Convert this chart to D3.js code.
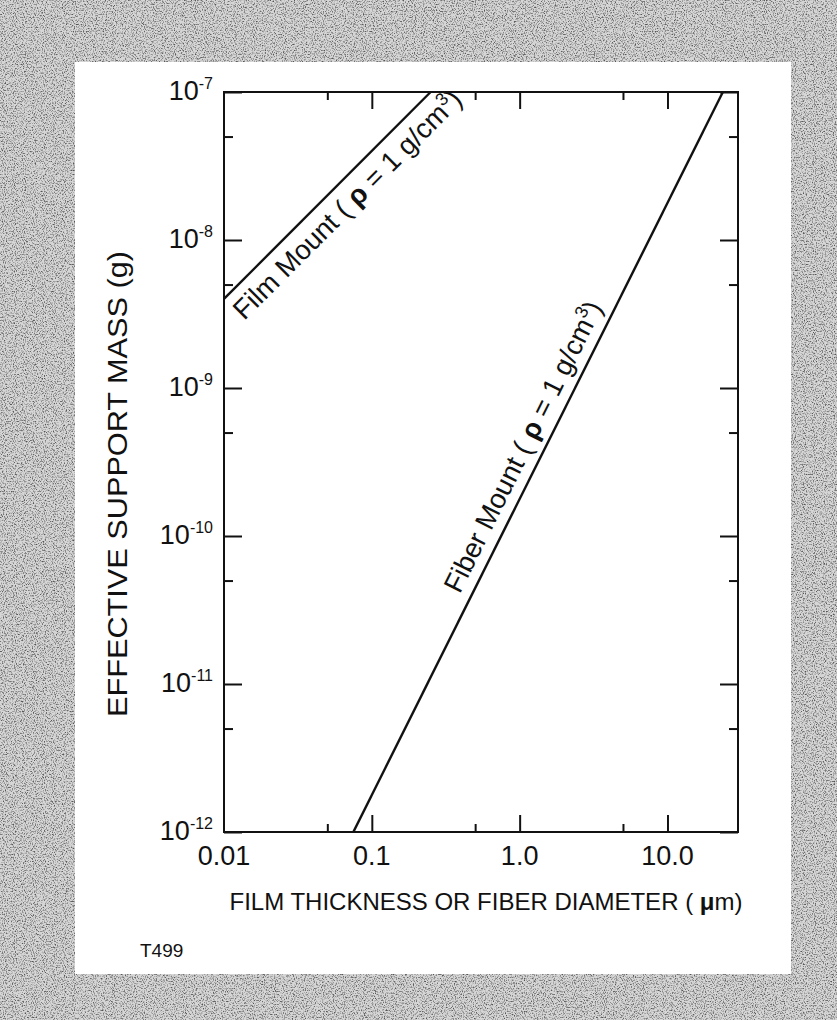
<!DOCTYPE html>
<html>
<head>
<meta charset="utf-8">
<script src="https://cdn.jsdelivr.net/npm/d3@7"></script>
<style>
  body { margin: 0; background: #fff; }
  svg { display: block; }
  text { font-family: "Liberation Sans", Arial, sans-serif; fill: #111; }
</style>
</head>
<body>
<div id="chart"></div>
<script>
// --- data ---
const yExponents   = [-12, -11, -10, -9, -8, -7];
const yMinorTicks  = [5e-12, 5e-11, 5e-10, 5e-9, 5e-8];
const xTickValues  = [0.01, 0.1, 1, 10];
const xTickLabels  = ["0.01", "0.1", "1.0", "10.0"];
const xMinorTicks  = [0.05, 0.5, 5];
const filmX  = [0.01, 0.25];
const filmY  = [4e-9, 1e-7];
const fiberX = [0.075, 23.7];
const fiberY = [1e-12, 1e-7];

// --- layout ---
const width = 837, height = 1020;
const plot = { left: 224, right: 738, top: 92, bottom: 832 };
const ink = "#111";

const svg = d3.select("#chart").append("svg")
  .attr("width", width).attr("height", height);

// textured scan border
const defs = svg.append("defs");
const f = defs.append("filter").attr("id", "grain")
  .attr("x", 0).attr("y", 0).attr("width", "100%").attr("height", "100%");
f.append("feTurbulence").attr("type", "fractalNoise")
  .attr("baseFrequency", "0.9 0.7").attr("numOctaves", 2).attr("seed", 7);
f.append("feColorMatrix").attr("type", "matrix")
  .attr("values", "0 0 0 0 0  0 0 0 0 0  0 0 0 0 0  -3 0 0 0 1.6");

svg.append("rect").attr("width", width).attr("height", height).attr("fill", "#d6d6d6");
svg.append("rect").attr("width", width).attr("height", height)
  .attr("filter", "url(#grain)").attr("opacity", 0.6);
svg.append("rect")
  .attr("x", 75).attr("y", 62).attr("width", 716).attr("height", 912)
  .attr("fill", "#fff");

// --- scales ---
const x = d3.scaleLog().domain([0.01, 30]).range([plot.left, plot.right]);
const y = d3.scaleLog().domain([1e-12, 1e-7]).range([plot.bottom, plot.top]);
const yMajor = yExponents.map(e => Math.pow(10, e));

const noLabels = () => "";
function clean(g) {
  g.select(".domain").remove();
  g.selectAll(".tick line").attr("stroke", ink).attr("stroke-width", 2);
}

// inward ticks on all four sides
svg.append("g").attr("transform", `translate(${plot.left},0)`)
  .call(d3.axisLeft(y).tickValues(yMajor).tickSize(-18).tickFormat(noLabels)).call(clean);
svg.append("g").attr("transform", `translate(${plot.left},0)`)
  .call(d3.axisLeft(y).tickValues(yMinorTicks).tickSize(-9).tickFormat(noLabels)).call(clean);
svg.append("g").attr("transform", `translate(${plot.right},0)`)
  .call(d3.axisRight(y).tickValues(yMajor).tickSize(-18).tickFormat(noLabels)).call(clean);
svg.append("g").attr("transform", `translate(${plot.right},0)`)
  .call(d3.axisRight(y).tickValues(yMinorTicks).tickSize(-9).tickFormat(noLabels)).call(clean);

svg.append("g").attr("transform", `translate(0,${plot.bottom})`)
  .call(d3.axisBottom(x).tickValues(xTickValues.slice(1)).tickSize(-17).tickFormat(noLabels)).call(clean);
svg.append("g").attr("transform", `translate(0,${plot.bottom})`)
  .call(d3.axisBottom(x).tickValues(xMinorTicks).tickSize(-8).tickFormat(noLabels)).call(clean);
svg.append("g").attr("transform", `translate(0,${plot.top})`)
  .call(d3.axisTop(x).tickValues(xTickValues.slice(1)).tickSize(-17).tickFormat(noLabels)).call(clean);
svg.append("g").attr("transform", `translate(0,${plot.top})`)
  .call(d3.axisTop(x).tickValues(xMinorTicks).tickSize(-8).tickFormat(noLabels)).call(clean);

// frame
svg.append("rect")
  .attr("x", plot.left).attr("y", plot.top)
  .attr("width", plot.right - plot.left).attr("height", plot.bottom - plot.top)
  .attr("fill", "none").attr("stroke", ink).attr("stroke-width", 2);

// y tick labels: 10^n
const yLab = svg.append("g").selectAll("text").data(yExponents).join("text")
  .attr("x", plot.left - 11)
  .attr("y", d => y(Math.pow(10, d)) + 8)
  .attr("text-anchor", "end")
  .style("font-size", "27px");
yLab.append("tspan").text("10");
yLab.append("tspan").attr("dy", -11).style("font-size", "16px").text(d => "-" + Math.abs(d));

// x tick labels
svg.append("g").selectAll("text").data(xTickValues).join("text")
  .attr("x", d => x(d))
  .attr("y", plot.bottom + 33)
  .attr("text-anchor", "middle")
  .style("font-size", "27px")
  .text((d, i) => xTickLabels[i]);

// axis titles
const xt = svg.append("text")
  .attr("x", 486).attr("y", 910)
  .attr("text-anchor", "middle")
  .style("font-size", "24px");
xt.append("tspan").text("FILM THICKNESS OR FIBER DIAMETER ( ");
xt.append("tspan").style("font-weight", 700).text("\u03BC");
xt.append("tspan").text("m)");

svg.append("text")
  .attr("transform", `translate(127,484) rotate(-90)`)
  .attr("text-anchor", "middle")
  .attr("textLength", 466)
  .attr("lengthAdjust", "spacingAndGlyphs")
  .style("font-size", "27px")
  .text("EFFECTIVE SUPPORT MASS (g)");

svg.append("text")
  .attr("x", 140).attr("y", 957)
  .style("font-size", "19px")
  .text("T499");

// --- lines ---
const line = d3.line().x(d => x(d[0])).y(d => y(d[1]));
const series = [
  { name: "Film Mount",  pts: d3.zip(filmX, filmY),   at: 0.0545, off: 30 },
  { name: "Fiber Mount", pts: d3.zip(fiberX, fiberY), at: 1.40,   off: -11 }
];

svg.append("g").selectAll("path").data(series).join("path")
  .attr("d", d => line(d.pts))
  .attr("fill", "none").attr("stroke", ink).attr("stroke-width", 2.4);

// labels along the lines
series.forEach(s => {
  const [p0, p1] = s.pts;
  const ang = Math.atan2(y(p1[1]) - y(p0[1]), x(p1[0]) - x(p0[0])) * 180 / Math.PI;
  const slope = Math.log10(p1[1] / p0[1]) / Math.log10(p1[0] / p0[0]);
  const yAt = p0[1] * Math.pow(s.at / p0[0], slope);
  const t = svg.append("text")
    .attr("transform", `translate(${x(s.at)},${y(yAt)}) rotate(${ang})`)
    .attr("y", s.off)
    .attr("text-anchor", "middle")
    .style("font-size", "27.5px");
  t.append("tspan").text(s.name + " ( ");
  t.append("tspan").style("font-weight", 700).text("\u03C1");
  t.append("tspan").text(" = 1 g/cm");
  t.append("tspan").attr("dy", -11).style("font-size", "18px").text("3");
  t.append("tspan").attr("dy", 11).text(")");
});
</script>
</body>
</html>
